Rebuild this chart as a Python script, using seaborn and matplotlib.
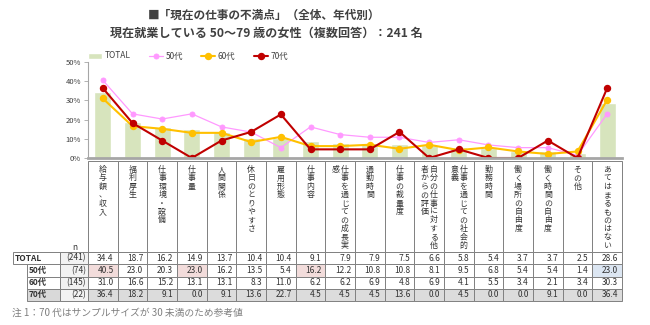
import numpy as np
import pandas as pd
import matplotlib
matplotlib.use("Agg")
import matplotlib.pyplot as plt
import seaborn as sns
from matplotlib.patches import Rectangle

# ---------------- data ----------------
categories = ["給与額、収入", "福利厚生", "仕事環境・設備", "仕事量", "人間関係",
              "休日のとりやすさ", "雇用形態", "仕事内容", "仕事を通じての成長実感",
              "通勤時間", "仕事の裁量度", "自分の仕事に対する他者からの評価",
              "仕事を通じての社会的意義", "勤務時間", "働く場所の自由度",
              "働く時間の自由度", "その他", "あてはまるものはない"]
total = [34.4, 18.7, 16.2, 14.9, 13.7, 10.4, 10.4, 9.1, 7.9, 7.9, 7.5, 6.6, 5.8, 5.4, 3.7, 3.7, 2.5, 28.6]
age50 = [40.5, 23.0, 20.3, 23.0, 16.2, 13.5, 5.4, 16.2, 12.2, 10.8, 10.8, 8.1, 9.5, 6.8, 5.4, 5.4, 1.4, 23.0]
age60 = [31.0, 16.6, 15.2, 13.1, 13.1, 8.3, 11.0, 6.2, 6.2, 6.9, 4.8, 6.9, 4.1, 5.5, 3.4, 2.1, 3.4, 30.3]
age70 = [36.4, 18.2, 9.1, 0.0, 9.1, 13.6, 22.7, 4.5, 4.5, 4.5, 13.6, 0.0, 4.5, 0.0, 0.0, 9.1, 0.0, 36.4]
series_names = ["TOTAL", "50代", "60代", "70代"]
n_values = [241, 74, 145, 22]
y_ticks = [0, 10, 20, 30, 40, 50]
title1 = "■「現在の仕事の不満点」（全体、年代別）"
title2 = "現在就業している 50～79 歳の女性（複数回答）：241 名"
note = "注 1：70 代はサンプルサイズが 30 未満のため参考値"

# ---------------- style ----------------
sns.set_style("white")
plt.rcParams["font.family"] = ["Noto Sans CJK JP", "DejaVu Sans"]

C_BAR = "#d7e4bd"
C50, C60, C70 = "#ff99ff", "#ffc000", "#c00000"
TXT = "#333333"
GRID = "#808080"

W, H = 650, 325
fig = plt.figure(figsize=(W / 100, H / 100), dpi=100)

# overlay (pixel coordinates) for table etc.
ov = fig.add_axes([0, 0, 1, 1], zorder=0)
ov.set_xlim(0, W)
ov.set_ylim(H, 0)
ov.axis("off")

X0, X1 = 88, 622
Y_TOP, Y_BOT = 62, 158
ax = fig.add_axes([X0 / W, 1 - Y_BOT / H, (X1 - X0) / W, (Y_BOT - Y_TOP) / H], zorder=2)
ax.patch.set_alpha(0)

sns.barplot(x=categories, y=total, color=C_BAR, saturation=1, width=0.58,
            ax=ax, label="TOTAL", zorder=1)
for vals, col, lw, ms, name in [(age50, C50, 0.9, 3.6, "50代"),
                                (age60, C60, 1.5, 4.2, "60代"),
                                (age70, C70, 1.5, 4.2, "70代")]:
    sns.pointplot(x=categories, y=vals, color=col, errorbar=None, markers="o",
                  markersize=ms, linewidth=lw, ax=ax, label=name)

if ax.get_legend() is not None:
    ax.get_legend().remove()

ax.set_xlim(-0.5, len(categories) - 0.5)
ax.set_ylim(0, 50)
ax.set_yticks(y_ticks)
ax.set_yticklabels([f"{t}%" for t in y_ticks], fontsize=5.5, color="#404040")
ax.set_xticks([])
ax.set_xlabel("")
ax.set_ylabel("")
for s in ["top", "right"]:
    ax.spines[s].set_visible(False)
ax.spines["left"].set_color("#a6a6a6")
ax.spines["left"].set_linewidth(0.8)
ax.spines["bottom"].set_color("#a6a6a6")
ax.spines["bottom"].set_linewidth(2.0)
ax.tick_params(axis="y", length=3, width=0.6, color="#a6a6a6", pad=2, left=True)

handles, labels = ax.get_legend_handles_labels()
hmap = dict(zip(labels, handles))
order = [s for s in series_names if s in hmap]
fig.legend([hmap[s] for s in order], order, loc="center",
           bbox_to_anchor=(188 / W, 1 - 56 / H),
           ncol=4, frameon=False, fontsize=6, handlelength=1.7, columnspacing=2.2,
           handletextpad=0.3, labelcolor="#404040")

fig.text(264 / W, 1 - 15 / H, title1, ha="center", va="center", fontsize=8.4,
         fontweight="bold", color="#404040")
fig.text(266 / W, 1 - 33 / H, title2, ha="center", va="center", fontsize=8.7,
         fontweight="bold", color="#404040")

# ---------------- category label table ----------------
ncat = len(categories)
cw = (X1 - X0) / ncat
LAB_T, LAB_B = 161, 252
CH_STEP = 8.4
for i, cat in enumerate(categories):
    x = X0 + i * cw
    ov.add_patch(Rectangle((x, LAB_T), cw, LAB_B - LAB_T, facecolor="white",
                           edgecolor=GRID, lw=0.7))
    chunks = [cat[k:k + 10] for k in range(0, len(cat), 10)]
    for j, chunk in enumerate(chunks):
        if len(chunks) == 1:
            cx = x + cw / 2
        else:
            cx = x + cw / 2 + (4.5 if j == 0 else -4.5)
        for k, ch in enumerate(chunk):
            ov.text(cx, LAB_T + 4 + k * CH_STEP, ch, ha="center", va="top",
                    fontsize=5.7, color=TXT)

# ---------------- data table ----------------
row_y = [252, 264.3, 276.6, 288.8, 301]
ov.text(75, 247, "n", ha="center", va="center", fontsize=6, color=TXT)
rows = [total, age50, age60, age70]
for r, (name, vals, nv) in enumerate(zip(series_names, rows, n_values)):
    yt, yb = row_y[r], row_y[r + 1]
    yc = (yt + yb) / 2
    lab_x = 13 if r == 0 else 27
    lab_face = "#d9d9d9" if name == "70代" else "white"
    ov.add_patch(Rectangle((lab_x, yt), 60 - lab_x, yb - yt, facecolor=lab_face,
                           edgecolor=GRID, lw=0.7))
    ov.text(lab_x + 2, yc, name, ha="left", va="center", fontsize=6,
            color=TXT, fontweight="bold")
    ov.add_patch(Rectangle((60, yt), X0 - 60, yb - yt, facecolor="#f2f2f2",
                           edgecolor=GRID, lw=0.7))
    ov.text(X0 - 2, yc, f"({nv})", ha="right", va="center", fontsize=6, color=TXT)
    for i, v in enumerate(vals):
        x = X0 + i * cw
        face = "white"
        if name == "70代":
            face = "#dcdcdc"
        elif r > 0:
            d = round(v - total[i], 1)
            if d > 5:
                face = "#f2dcdb"
            elif d < -5:
                face = "#dce6f2"
        ov.add_patch(Rectangle((x, yt), cw, yb - yt, facecolor=face,
                               edgecolor=GRID, lw=0.7))
        ov.text(x + cw - 4, yc, f"{v:.1f}", ha="right", va="center",
                fontsize=6, color=TXT)

fig.text(12 / W, 1 - 313 / H, note, ha="left", va="center", fontsize=7,
         color="#7f7f7f")

fig.savefig("out.png", dpi=100)
